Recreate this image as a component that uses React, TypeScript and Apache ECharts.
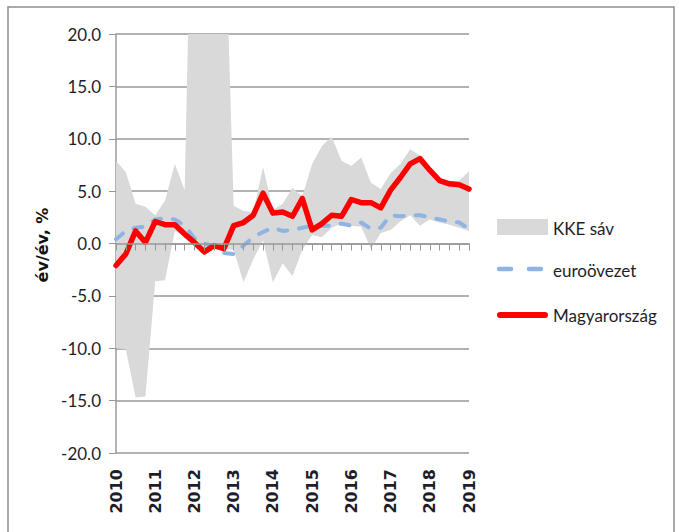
import React, { useEffect, useRef } from "react";
import * as echarts from "echarts";

const years = [2010, 2011, 2012, 2013, 2014, 2015, 2016, 2017, 2018, 2019];
const quarters: string[] = [];
years.forEach((y) => {
  const qs = y === 2019 ? [1] : [1, 2, 3, 4];
  qs.forEach((q) => quarters.push(`${y} Q${q}`));
});

const yTicks = [-20, -15, -10, -5, 0, 5, 10, 15, 20];

// KKE sáv (band) lower and upper bounds
const kkeLower = [
  -10.0, -10.1, -14.7, -14.6, -3.6, -3.5, 1.2, 0.7, 0.0, -0.7, -0.2, -0.5, -0.6,
  -3.7, -1.5, 0.3, -3.7, -1.9, -3.1, -0.6, 0.8, 0.6, 1.5, 1.9, 1.7, 1.6, -0.5,
  1.0, 1.3, 2.1, 2.7, 1.7, 2.3, 2.0, 1.8, 1.5, 1.2,
];
const kkeUpper = [
  7.9, 6.8, 3.8, 3.5, 2.7, 4.1, 7.6, 5.1, 48, 60, 55, 35, 3.6, 3.1, 3.0, 7.3,
  3.2, 3.8, 5.3, 4.5, 7.6, 9.3, 10.2, 7.9, 7.4, 8.2, 5.8, 5.2, 6.7, 7.6, 9.0,
  8.4, 7.2, 6.2, 6.0, 6.0, 6.9,
];
const euroovezet = [
  0.4, 1.2, 1.5, 1.6, 2.3, 2.4, 2.3, 1.7, 0.5, 0.0, -0.3, -0.9, -1.0, -0.2, 0.6,
  1.1, 1.5, 1.2, 1.3, 1.5, 1.7, 1.7, 1.7, 1.9, 1.7, 2.0, 1.4, 1.5, 2.7, 2.6, 2.7,
  2.7, 2.5, 2.3, 2.1, 2.0, 1.4,
];
const magyarorszag = [
  -2.1, -1.0, 1.2, 0.1, 2.1, 1.8, 1.8, 0.9, 0.1, -0.8, -0.2, -0.5, 1.7, 2.0, 2.7,
  4.8, 2.9, 3.0, 2.6, 4.3, 1.3, 1.9, 2.7, 2.6, 4.2, 3.9, 3.9, 3.4, 5.1, 6.3, 7.6,
  8.1, 7.0, 6.0, 5.7, 5.6, 5.2,
];

const GRID_COLOR = "#989898";
const TEXT_COLOR = "#1e1e2a";
const BAND_COLOR = "#D9D9D9";
const EURO_COLOR = "#8DB4E2";
const HU_COLOR = "#FF0000";

export default function App() {
  const ref = useRef<HTMLDivElement>(null);

  useEffect(() => {
    if (!ref.current) return;
    const chart = echarts.init(ref.current, undefined, { renderer: "svg" });
    const bandWidth = kkeUpper.map((u, i) => +(u - kkeLower[i]).toFixed(2));

    const option: any = {
      animation: false,
      backgroundColor: "#ffffff",
      grid: { left: 116, right: 210, top: 34, bottom: 79, containLabel: false },
      xAxis: [
        {
          type: "category",
          data: quarters,
          boundaryGap: false,
          position: "bottom",
          axisLine: { onZero: true, lineStyle: { color: GRID_COLOR, width: 1.5 } },
          axisTick: { show: true, interval: 0, length: 7, lineStyle: { color: GRID_COLOR, width: 1 } },
          axisLabel: { show: false },
          splitLine: { show: false },
          z: 5,
        },
        {
          type: "category",
          data: quarters,
          boundaryGap: false,
          position: "bottom",
          axisLine: { show: false, onZero: false },
          axisTick: { show: false },
          splitLine: { show: false },
          axisLabel: {
            show: true,
            rotate: 90,
            margin: 16,
            interval: (idx: number) => idx % 4 === 0,
            formatter: (v: string) => v.slice(0, 4),
            fontFamily: "DejaVu Sans",
            fontWeight: "bold",
            fontSize: 16,
            color: TEXT_COLOR,
          },
        },
      ],
      yAxis: {
        type: "value",
        min: -20,
        max: 20,
        interval: 5,
        axisLine: { show: true, lineStyle: { color: GRID_COLOR, width: 1.5 } },
        axisTick: { show: true, length: 7, lineStyle: { color: GRID_COLOR } },
        splitLine: { show: true, lineStyle: { color: GRID_COLOR, width: 1.5 } },
        axisLabel: {
          margin: 15,
          formatter: (v: number) => (yTicks.includes(v) ? v.toFixed(1) : ""),
          fontFamily: "Lato, 'Open Sans', sans-serif",
          fontSize: 17,
          color: TEXT_COLOR,
        },
      },
      series: [
        {
          name: "lower",
          type: "line",
          data: kkeLower,
          stack: "kke",
          stackStrategy: "all",
          symbol: "none",
          lineStyle: { width: 0, opacity: 0 },
          silent: true,
          z: 1,
        },
        {
          name: "KKE sáv",
          type: "line",
          data: bandWidth,
          stack: "kke",
          stackStrategy: "all",
          symbol: "none",
          lineStyle: { width: 0, opacity: 0 },
          areaStyle: { color: BAND_COLOR, opacity: 1 },
          silent: true,
          clip: true,
          z: 1,
        },
        {
          name: "euroövezet",
          type: "line",
          data: euroovezet,
          symbol: "none",
          lineStyle: { color: EURO_COLOR, width: 4, type: [9, 12], cap: "round" },
          z: 3,
        },
        {
          name: "Magyarország",
          type: "line",
          data: magyarorszag,
          symbol: "none",
          lineStyle: { color: HU_COLOR, width: 5.5, join: "round", cap: "round" },
          z: 4,
        },
      ],
      graphic: [
        {
          type: "rect",
          shape: { x: 8, y: 7, width: 666, height: 600 },
          style: { fill: "none", stroke: "#8f8f8f", lineWidth: 1.5 },
          silent: true,
        },
        {
          type: "text",
          x: 42,
          y: 245,
          rotation: Math.PI / 2,
          style: {
            text: "év/év, %",
            fontFamily: "DejaVu Sans",
            fontWeight: "bold",
            fontSize: 16,
            fill: "#111111",
            textAlign: "center",
            textVerticalAlign: "middle",
          },
        },
        {
          type: "rect",
          shape: { x: 497, y: 219, width: 51, height: 16 },
          style: { fill: BAND_COLOR },
        },
        {
          type: "text",
          x: 553,
          y: 228,
          style: {
            text: "KKE sáv",
            fontFamily: "Lato, sans-serif",
            fontSize: 17,
            fill: TEXT_COLOR,
            textVerticalAlign: "middle",
          },
        },
        {
          type: "line",
          shape: { x1: 499, y1: 269, x2: 511, y2: 269 },
          style: { stroke: EURO_COLOR, lineWidth: 4.5, lineCap: "round" },
        },
        {
          type: "line",
          shape: { x1: 529, y1: 269, x2: 541, y2: 269 },
          style: { stroke: EURO_COLOR, lineWidth: 4.5, lineCap: "round" },
        },
        {
          type: "text",
          x: 553,
          y: 270,
          style: {
            text: "euroövezet",
            fontFamily: "Lato, sans-serif",
            fontSize: 17,
            fill: TEXT_COLOR,
            textVerticalAlign: "middle",
          },
        },
        {
          type: "line",
          shape: { x1: 500, y1: 315, x2: 545, y2: 315 },
          style: { stroke: HU_COLOR, lineWidth: 6, lineCap: "round" },
        },
        {
          type: "text",
          x: 553,
          y: 315,
          style: {
            text: "Magyarország",
            fontFamily: "Lato, sans-serif",
            fontSize: 17,
            fill: TEXT_COLOR,
            textVerticalAlign: "middle",
          },
        },
      ],
    };

    chart.setOption(option);
    return () => chart.dispose();
  }, []);

  return (
    <div
      ref={ref}
      style={{ position: "absolute", left: 0, top: 0, width: 679, height: 532 }}
    />
  );
}
